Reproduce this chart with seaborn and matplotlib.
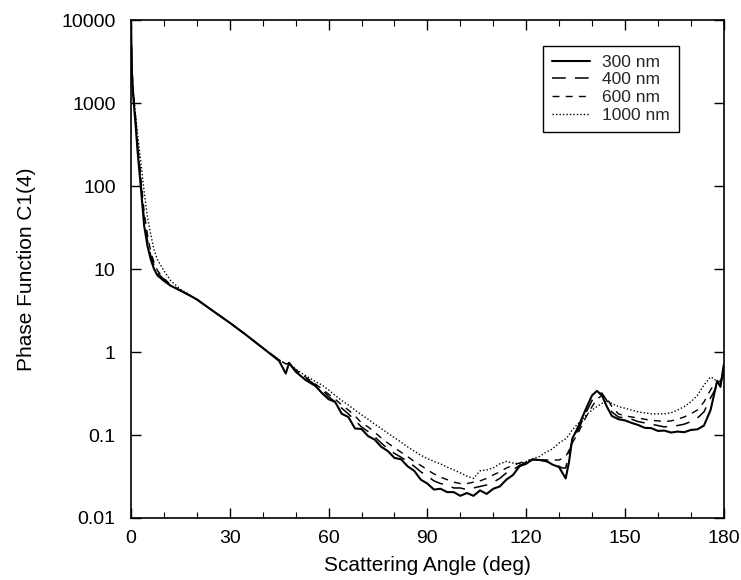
import matplotlib
matplotlib.use("Agg")
import matplotlib.pyplot as plt
import seaborn as sns
import pandas as pd
from matplotlib.ticker import FixedLocator, NullLocator, FixedFormatter

angles = [0, 0.3, 0.6, 1, 1.5, 2, 3, 4, 5, 6, 7, 8, 10, 12, 15, 17, 20, 25, 30, 35,
          40, 45, 47, 48, 50, 53, 56, 58, 60, 62, 64, 66, 68, 70, 72, 74, 76, 78, 80, 82,
          84, 86, 88, 90, 92, 94, 96, 98, 100, 102, 104, 106, 108, 110, 112, 114, 116, 118, 120, 122,
          124, 126, 128, 130, 131, 132, 133, 134, 136, 138, 140, 141.5, 143, 144.5, 146, 148, 150, 152, 154, 156,
          158, 160, 162, 164, 166, 168, 170, 172, 174, 176, 177, 178, 179, 180]

p300 = [9500, 2200, 1300, 850, 480, 260, 95, 33, 19, 13, 10, 8.4, 7.2, 6.3, 5.5, 5.0, 4.3, 3.1, 2.25, 1.6,
        1.12, 0.78, 0.55, 0.74, 0.58, 0.46, 0.39, 0.32, 0.27, 0.25, 0.18, 0.165, 0.12, 0.118, 0.097, 0.088, 0.072, 0.064, 0.053, 0.051,
        0.042, 0.037, 0.029, 0.026, 0.022, 0.0225, 0.0205, 0.0205, 0.0185, 0.02, 0.0185, 0.0215, 0.0195, 0.0225, 0.024, 0.029, 0.033, 0.042, 0.045, 0.051,
        0.05, 0.049, 0.044, 0.041, 0.035, 0.03, 0.047, 0.09, 0.13, 0.2, 0.3, 0.34, 0.3, 0.22, 0.17, 0.155, 0.15, 0.14, 0.132, 0.122,
        0.121, 0.112, 0.113, 0.107, 0.11, 0.108, 0.115, 0.117, 0.13, 0.2, 0.3, 0.45, 0.38, 0.7]

p400 = [9000, 2500, 1500, 950, 550, 300, 110, 40, 22, 14.5, 11, 9, 7.5, 6.4, 5.5, 5.0, 4.3, 3.1, 2.25, 1.6,
        1.12, 0.8, 0.7, 0.72, 0.6, 0.49, 0.4, 0.35, 0.29, 0.25, 0.21, 0.18, 0.15, 0.125, 0.11, 0.095, 0.08, 0.068, 0.06, 0.054,
        0.048, 0.042, 0.036, 0.032, 0.028, 0.026, 0.025, 0.023, 0.023, 0.022, 0.023, 0.024, 0.025, 0.027, 0.03, 0.035, 0.038, 0.043, 0.047, 0.05,
        0.05, 0.048, 0.045, 0.042, 0.04, 0.04, 0.06, 0.085, 0.12, 0.18, 0.26, 0.31, 0.32, 0.26, 0.19, 0.165, 0.16, 0.155, 0.145, 0.14,
        0.135, 0.13, 0.125, 0.128, 0.13, 0.135, 0.145, 0.16, 0.19, 0.28, 0.33, 0.4, 0.42, 0.55]

p600 = [7000, 2600, 1600, 1000, 600, 330, 125, 48, 26, 16, 12, 9.6, 7.7, 6.5, 5.5, 5.0, 4.3, 3.1, 2.25, 1.6,
        1.12, 0.8, 0.72, 0.73, 0.61, 0.5, 0.41, 0.36, 0.31, 0.27, 0.23, 0.2, 0.17, 0.14, 0.125, 0.108, 0.092, 0.08, 0.07, 0.062,
        0.055, 0.048, 0.043, 0.038, 0.034, 0.031, 0.029, 0.027, 0.026, 0.026, 0.027, 0.028, 0.03, 0.033, 0.036, 0.04, 0.043, 0.046, 0.049, 0.05,
        0.05, 0.05, 0.05, 0.05, 0.052, 0.055, 0.065, 0.08, 0.11, 0.16, 0.22, 0.27, 0.3, 0.28, 0.22, 0.18, 0.17, 0.165, 0.16, 0.155,
        0.15, 0.148, 0.145, 0.148, 0.155, 0.165, 0.18, 0.2, 0.25, 0.35, 0.4, 0.42, 0.45, 0.55]

p1000 = [3000, 2000, 1400, 1000, 650, 420, 190, 85, 42, 26, 17, 13, 9.5, 7.3, 5.7, 5.1, 4.3, 3.1, 2.25, 1.6,
         1.12, 0.8, 0.72, 0.74, 0.62, 0.52, 0.44, 0.4, 0.35, 0.3, 0.26, 0.23, 0.2, 0.175, 0.155, 0.135, 0.12, 0.105, 0.093, 0.082,
         0.072, 0.064, 0.057, 0.052, 0.048, 0.045, 0.041, 0.038, 0.035, 0.032, 0.03, 0.037, 0.038, 0.04, 0.045, 0.048, 0.046, 0.045, 0.048, 0.052,
         0.055, 0.062, 0.068, 0.08, 0.085, 0.09, 0.1, 0.115, 0.14, 0.17, 0.2, 0.22, 0.24, 0.26, 0.24, 0.22, 0.21, 0.2, 0.19, 0.185,
         0.18, 0.18, 0.18, 0.185, 0.2, 0.22, 0.25, 0.3, 0.4, 0.5, 0.48, 0.43, 0.45, 0.55]

labels = ["300 nm", "400 nm", "600 nm", "1000 nm"]
series = [p300, p400, p600, p1000]

x_ticks = [0, 30, 60, 90, 120, 150, 180]
y_ticks = [0.01, 0.1, 1, 10, 100, 1000, 10000]
y_tick_labels = ["0.01", "0.1", "1", "10", "100", "1000", "10000"]

rows = []
for lab, vals in zip(labels, series):
    for a, v in zip(angles, vals):
        rows.append({"angle": a, "value": v, "wl": lab})
df = pd.DataFrame(rows)

sns.set_theme(style="ticks")
plt.rcParams['font.family'] = ['Liberation Sans', 'DejaVu Sans']

fig = plt.figure(figsize=(7.41, 5.80), dpi=100)
ax = fig.add_axes([0.1768, 0.1069, 0.7999, 0.8586])

dashes = {"300 nm": "", "400 nm": (9, 6), "600 nm": (5, 4.5), "1000 nm": (1, 1.5)}
sizes = {"300 nm": 1.5, "400 nm": 1.1, "600 nm": 1.0, "1000 nm": 1.0}
sns.lineplot(data=df, x="angle", y="value", style="wl", dashes=dashes,
             size="wl", sizes=sizes, color="black", ax=ax, estimator=None,
             sort=False, legend=True)

ax.set_yscale("log")
ax.set_xlim(0, 180)
ax.set_ylim(0.01, 10000)
ax.xaxis.set_major_locator(FixedLocator(x_ticks))
ax.xaxis.set_minor_locator(FixedLocator(list(range(0, 181, 10))))
ax.yaxis.set_major_locator(FixedLocator(y_ticks))
ax.yaxis.set_major_formatter(FixedFormatter(y_tick_labels))
ax.yaxis.set_minor_locator(NullLocator())
ax.tick_params(which="both", direction="in", top=True, right=True, colors="black",
               labelsize=14)
ax.tick_params(which="major", length=7, width=1)
ax.tick_params(which="minor", length=4, width=0.8)
ax.tick_params(axis="y", which="major", pad=11)
ax.tick_params(axis="x", which="major", pad=9)
for s in ax.spines.values():
    s.set_color("black")
    s.set_linewidth(1.2)

ax.set_xlabel("Scattering Angle (deg)", fontsize=15, color="black", labelpad=6)
ax.set_ylabel("Phase Function C1(4)", fontsize=15, color="black", labelpad=18)

handles, labs = ax.get_legend_handles_labels()
hmap = dict(zip(labs, handles))
leg = ax.legend([hmap[l] for l in labels], labels, loc="upper right",
                bbox_to_anchor=(0.924, 0.948), borderaxespad=0, fontsize=12.5,
                frameon=True, fancybox=False, edgecolor="black", framealpha=1,
                handlelength=2.2, handletextpad=0.7, labelspacing=0.15,
                borderpad=0.5)
leg.get_frame().set_linewidth(1.0)

fig.savefig("out.png", dpi=100)
